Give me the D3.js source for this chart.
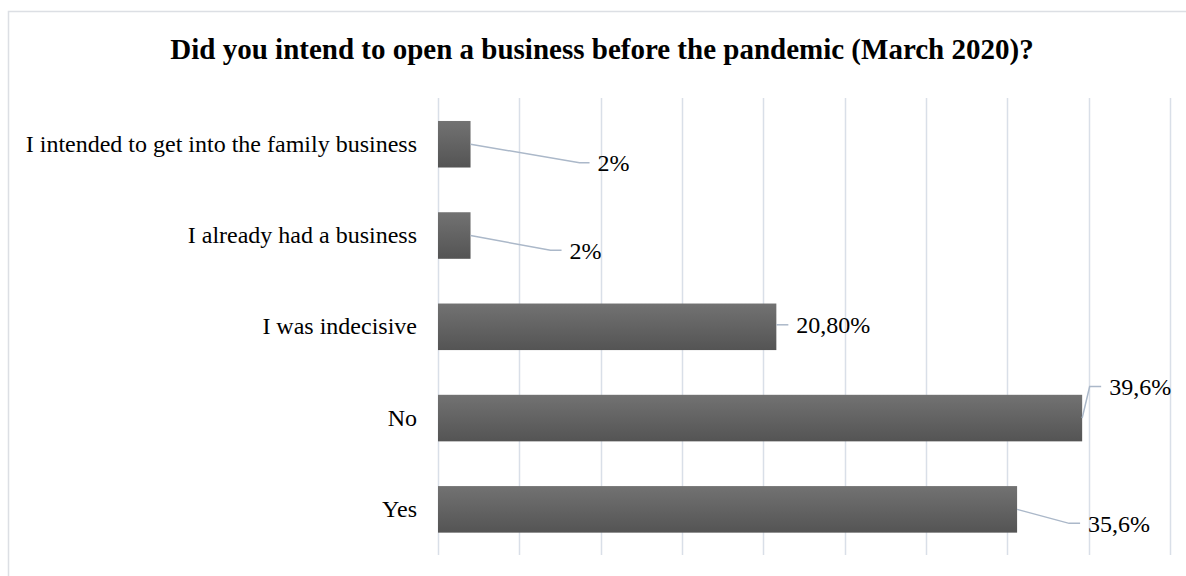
<!DOCTYPE html>
<html>
<head>
<meta charset="utf-8">
<script src="https://cdn.jsdelivr.net/npm/d3@7"></script>
<style>
  body { margin: 0; background: #fff; }
  svg { display: block; }
  text { font-family: "Liberation Serif", "Times New Roman", serif; fill: #000; }
</style>
</head>
<body>
<svg id="chart"></svg>
<script>
// Data
const categories = [
  "I intended to get into the family business",
  "I already had a business",
  "I was indecisive",
  "No",
  "Yes"
];
const values = [2, 2, 20.8, 39.6, 35.6];
const valueLabels = ["2%", "2%", "20,80%", "39,6%", "35,6%"];
const xTicks = d3.range(0, 50, 5);

// Leader line layout for each data label (pixels from the bar end): [elbow dx, end dx, dy]
const labelOffsets = [
  [109, 119, 18.5],
  [80, 91, 14.7],
  [0, 12, -2],
  [7.5, 19, -31.6],
  [52, 63, 14]
];

const width = 1186;
const height = 576;

const svg = d3.select("#chart")
  .attr("width", width)
  .attr("height", height);

// Chart frame (cropped on the right and bottom like the source)
svg.append("rect")
  .attr("x", 8.5)
  .attr("y", 11.5)
  .attr("width", 1200)
  .attr("height", 600)
  .attr("fill", "#fff")
  .attr("stroke", "#dcdfe4")
  .attr("stroke-width", 1.5);

// Title
svg.append("text")
  .attr("x", 602)
  .attr("y", 59)
  .attr("text-anchor", "middle")
  .style("font-size", "29px")
  .style("font-weight", "bold")
  .text("Did you intend to open a business before the pandemic (March 2020)?");

// Scales
const x = d3.scaleLinear()
  .domain([0, 45])
  .range([438, 1170]);

const y = d3.scaleBand()
  .domain(categories)
  .range([98.6, 555])
  .paddingInner(0.49)
  .paddingOuter(0.245);

// Gradient for bars
const defs = svg.append("defs");
const grad = defs.append("linearGradient")
  .attr("id", "barGrad")
  .attr("x1", 0).attr("y1", 0)
  .attr("x2", 0).attr("y2", 1);
grad.append("stop").attr("offset", "0%").attr("stop-color", "#727272");
grad.append("stop").attr("offset", "100%").attr("stop-color", "#545454");

// Gridlines
svg.append("g")
  .selectAll("line")
  .data(xTicks)
  .enter().append("line")
  .attr("x1", d => Math.round(x(d)) + 0.5)
  .attr("x2", d => Math.round(x(d)) + 0.5)
  .attr("y1", 98)
  .attr("y2", 555)
  .attr("stroke", "#d9dfe8")
  .attr("stroke-width", 1.5);

// Bars
svg.append("g")
  .selectAll("rect")
  .data(categories)
  .enter().append("rect")
  .attr("x", x(0))
  .attr("y", d => y(d))
  .attr("width", (d, i) => x(values[i]) - x(0))
  .attr("height", y.bandwidth())
  .attr("fill", "url(#barGrad)");

// Category labels
svg.append("g")
  .selectAll("text")
  .data(categories)
  .enter().append("text")
  .attr("x", 417)
  .attr("y", d => y(d) + y.bandwidth() / 2)
  .attr("dy", "0.32em")
  .attr("text-anchor", "end")
  .style("font-size", "24px")
  .text(d => d);

// Leader lines and data labels
const labels = svg.append("g")
  .selectAll("g")
  .data(categories)
  .enter().append("g");

labels.append("path")
  .attr("fill", "none")
  .attr("stroke", "#abb8c9")
  .attr("stroke-width", 1.5)
  .attr("d", (d, i) => {
    const x0 = x(values[i]);
    const y0 = y(d) + y.bandwidth() / 2;
    const [ex, tx, dy] = labelOffsets[i];
    const startY = i === 3 ? y0 : (i === 2 ? y0 + dy : y0);
    return d3.line()([[x0, startY], [x0 + ex, y0 + dy], [x0 + tx, y0 + dy]]);
  });

labels.append("text")
  .attr("x", (d, i) => x(values[i]) + labelOffsets[i][1] + 8)
  .attr("y", (d, i) => y(d) + y.bandwidth() / 2 + labelOffsets[i][2])
  .attr("dy", "0.36em")
  .style("font-size", "24px")
  .text((d, i) => valueLabels[i]);
</script>
</body>
</html>
